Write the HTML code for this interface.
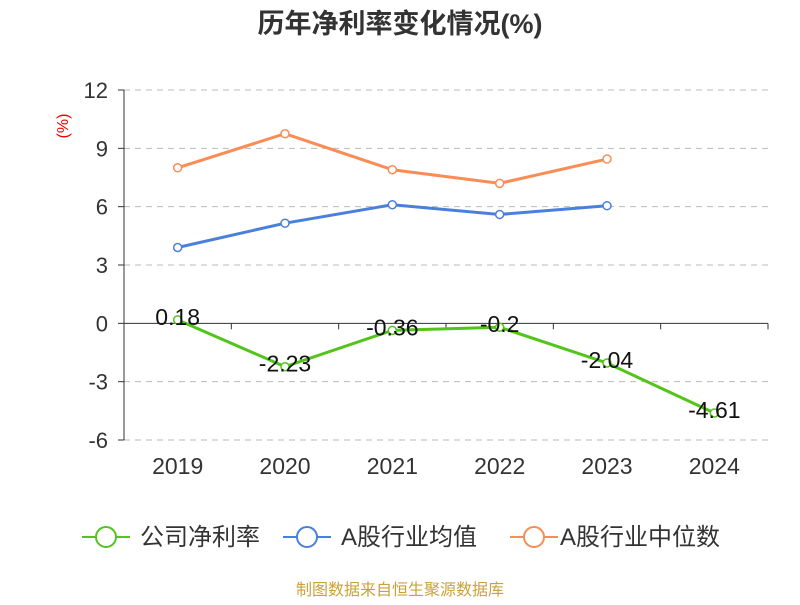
<!DOCTYPE html>
<html><head><meta charset="utf-8"><style>
body{margin:0;background:#fff;width:800px;height:600px;overflow:hidden}
svg text{font-family:"Liberation Sans","Noto Sans CJK SC",sans-serif}
</style></head><body>
<svg id="chart" width="800" height="600">
<text x="400" y="33" text-anchor="middle" font-size="27" font-weight="bold" fill="#333">历年净利率变化情况(%)</text>
<text x="0" y="0" transform="translate(68,126) rotate(-90)" text-anchor="middle" font-size="16" fill="#e00">(%)</text>
<g id="grid"></g><g id="series"></g>
<g>
<g><line x1="82" y1="537" x2="130" y2="537" stroke="#52c41a" stroke-width="2"/><circle cx="106" cy="537" r="10" fill="#fff" stroke="#52c41a" stroke-width="2"/><text x="140" y="545" font-size="24" fill="#333">公司净利率</text></g>
<g><line x1="283" y1="537" x2="331" y2="537" stroke="#4a7fdc" stroke-width="2"/><circle cx="307" cy="537" r="10" fill="#fff" stroke="#4a7fdc" stroke-width="2"/><text x="341" y="545" font-size="24" fill="#333">A股行业均值</text></g>
<g><line x1="510" y1="537" x2="558" y2="537" stroke="#fa8c55" stroke-width="2"/><circle cx="534" cy="537" r="10" fill="#fff" stroke="#fa8c55" stroke-width="2"/><text x="560" y="545" font-size="24" fill="#333">A股行业中位数</text></g>
</g>
<text x="400" y="595" text-anchor="middle" font-size="16" fill="#c9a23a">制图数据来自恒生聚源数据库</text>
</svg>
<script>
const categories=["2019","2020","2021","2022","2023","2024"];
const companyValues=[0.18,-2.23,-0.36,-0.2,-2.04,-4.61];
const avgValues=[3.9,5.15,6.1,5.6,6.05];
const medianValues=[8.0,9.75,7.9,7.2,8.45];
const yTicks=[12,9,6,3,0,-3,-6];
const NS="http://www.w3.org/2000/svg";
const x0=124,x1=768,yTop=90,yBot=440,yMax=12,yMin=-6;
const bw=(x1-x0)/categories.length;
function xs(i){return x0+bw*(i+0.5);}
function ys(v){return yTop+(yMax-v)/(yMax-yMin)*(yBot-yTop);}
function mk(t,a,p){const e=document.createElementNS(NS,t);for(const k in a)e.setAttribute(k,a[k]);p.appendChild(e);return e;}
const grid=document.getElementById('grid'),ser=document.getElementById('series');
yTicks.forEach(v=>{
 const y=ys(v);
 if(v!==0){const l=mk('line',{x1:x0,x2:x1,y1:y,y2:y,stroke:'#bbb','stroke-dasharray':'6,5'},grid);
 
 }
 mk('line',{x1:x0-6,x2:x0,y1:y,y2:y,stroke:'#333'},grid);
 const t=mk('text',{x:108,y:y+8,'text-anchor':'end','font-size':22,fill:'#333'},grid);t.textContent=v;
 
 
});
mk('line',{x1:x0,x2:x0,y1:yTop,y2:yBot,stroke:'#333'},grid);
const z=ys(0);
const ax=mk('line',{x1:x0,x2:x1,y1:z,y2:z,stroke:'#333'},grid);


for(let i=0;i<=categories.length;i++)mk('line',{x1:x0+bw*i,x2:x0+bw*i,y1:z,y2:z+6,stroke:'#333'},grid);
categories.forEach((c,i)=>{const t=mk('text',{x:xs(i),y:474,'text-anchor':'middle','font-size':23,fill:'#333'},grid);t.textContent=c;
 
 });
function series(vals,color,name,labels){
 const pts=vals.map((v,i)=>xs(i)+','+ys(v)).join(' ');
 const pl=mk('polyline',{points:pts,fill:'none',stroke:color,'stroke-width':3},ser);
 
 
 vals.forEach((v,i)=>{const c=mk('circle',{cx:xs(i),cy:ys(v),r:4,fill:'#fff',stroke:color,'stroke-width':1.5},ser);
  
  
  if(labels){const t=mk('text',{x:xs(i),y:ys(v)+5,'text-anchor':'middle','font-size':23,fill:'#111'},ser);t.textContent=v;
  
  }
 });
}
series(medianValues,'#fa8c55','industry-median',false);
series(avgValues,'#4a7fdc','industry-avg',false);
series(companyValues,'#52c41a','company',true);
</script>
</body></html>
